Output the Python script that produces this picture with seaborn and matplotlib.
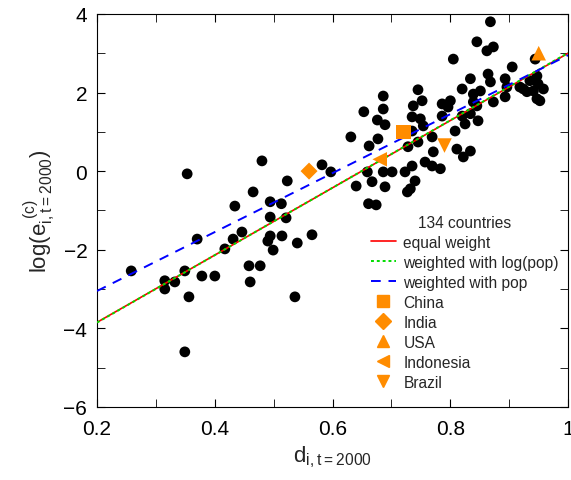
import matplotlib
matplotlib.use("Agg")
import matplotlib.pyplot as plt
import numpy as np
import pandas as pd
import seaborn as sns
from matplotlib.lines import Line2D
from matplotlib.ticker import MultipleLocator

# countries (black dots)
dev = [0.353, 0.434, 0.465, 0.480, 0.494, 0.513, 0.523, 0.582, 0.597, 0.631,
       0.640, 0.653, 0.661, 0.674, 0.662, 0.676, 0.677, 0.686, 0.686, 0.689,
       0.659, 0.667, 0.686, 0.701, 0.689, 0.723, 0.735, 0.740, 0.732, 0.727,
       0.728, 0.735, 0.735, 0.737, 0.745, 0.752, 0.749, 0.754, 0.745, 0.757,
       0.769, 0.783, 0.771, 0.769, 0.786, 0.786, 0.800, 0.796, 0.808, 0.811,
       0.822, 0.834, 0.820, 0.825, 0.834, 0.839, 0.847, 0.845, 0.820, 0.834,
       0.851, 0.839, 0.805, 0.845, 0.862, 0.873, 0.868, 0.864, 0.868, 0.873,
       0.893, 0.896, 0.893, 0.905, 0.918, 0.924, 0.930, 0.935, 0.947, 0.949,
       0.941, 0.947, 0.952, 0.958, 0.944,
       0.258, 0.315, 0.315, 0.332, 0.349, 0.356, 0.349, 0.370, 0.378, 0.400,
       0.417, 0.431, 0.446, 0.458, 0.477, 0.460, 0.494, 0.490, 0.494, 0.499,
       0.521, 0.514, 0.540, 0.565, 0.536]
loge = [-0.07, -0.89, -0.53, 0.26, -0.78, -0.83, -0.25, 0.16, -0.02, 0.87,
        -0.38, 1.51, -0.83, -0.86, 0.64, 1.30, 0.82, 1.91, 1.58, 1.18,
        -0.02, -0.27, -0.02, -0.02, -0.40, -0.02, 0.13, -0.25, -0.45, -0.53,
        0.62, 1.02, 1.38, 1.66, 2.07, 1.79, 1.33, 1.15, 0.74, 0.23,
        0.13, 0.06, 0.49, 0.87, 1.71, 1.40, 1.79, 1.63, 1.02, 0.56,
        0.36, 0.51, 1.40, 1.20, 1.46, 1.76, 1.28, 1.66, 2.09, 2.35,
        2.04, 1.96, 2.85, 3.29, 3.06, 3.16, 3.80, 2.47, 2.27, 1.76,
        2.35, 2.14, 1.89, 2.65, 2.14, 2.09, 2.02, 2.30, 2.42, 2.22,
        2.04, 1.84, 1.79, 2.09, 2.85,
        -2.54, -2.79, -3.00, -2.82, -2.54, -3.20, -4.60, -1.73, -2.67, -2.67,
        -1.98, -1.73, -1.55, -2.41, -2.41, -2.82, -1.17, -1.78, -1.65, -2.01,
        -1.19, -1.65, -1.83, -1.62, -3.20]

# highlighted countries
names = ["China", "India", "USA", "Indonesia", "Brazil"]
name_dev = [0.72, 0.56, 0.95, 0.68, 0.79]
name_loge = [1.0, 0.0, 3.0, 0.3, 0.65]
name_marks = ["s", "D", "^", "<", "v"]

# fitted lines: (slope, intercept)
fit_equal = (8.56, -5.56)
fit_logpop = (8.58, -5.57)
fit_pop = (7.5, -4.55)

sns.set_style("ticks")
plt.rcParams["font.family"] = ["Liberation Sans", "DejaVu Sans"]
plt.rcParams["mathtext.fontset"] = "custom"
plt.rcParams["mathtext.rm"] = "Liberation Sans"

fig = plt.figure(figsize=(5.71, 4.81), dpi=100)
ax = fig.add_axes([0.17, 0.152, 0.825, 0.817])

df = pd.DataFrame({"d": dev, "e": loge})
sns.scatterplot(data=df, x="d", y="e", color="black", s=60, edgecolor="none", ax=ax, zorder=3)

xs = np.array([0.2, 1.0])
ax.plot(xs, fit_equal[0] * xs + fit_equal[1], color="red", lw=1.2, zorder=4)
ax.plot(xs, fit_logpop[0] * xs + fit_logpop[1], color="#00dd00", lw=1.4, ls=(0, (1.5, 1.5)), zorder=4)
ax.plot(xs, fit_pop[0] * xs + fit_pop[1], color="blue", lw=1.4, ls=(0, (5, 4)), zorder=4)

orange = "#ff8c00"
for n, x, y, m in zip(names, name_dev, name_loge, name_marks):
    ax.scatter(x, y, marker=m, color=orange, s=110 if m != "D" else 75, zorder=5, edgecolor="none")

handles = [
    Line2D([], [], color="red", lw=1.2),
    Line2D([], [], color="#00dd00", lw=1.4, ls=(0, (1.5, 1.5))),
    Line2D([], [], color="blue", lw=1.4, ls=(0, (5, 4))),
] + [Line2D([], [], marker=m, color=orange, ls="none", markersize=8) for m in name_marks]
labels = ["equal weight", "weighted with log(pop)", "weighted with pop"] + names
leg = ax.legend(handles, labels, title="134 countries", loc="lower right",
                bbox_to_anchor=(1.0, 0.02), borderaxespad=0.2, frameon=False,
                fontsize=11.2, title_fontsize=11.2, handlelength=1.6,
                handletextpad=0.5, labelspacing=0.32, markerfirst=True)

ax.set_xlim(0.2, 1.0)
ax.set_ylim(-6, 4)
ax.xaxis.set_major_locator(MultipleLocator(0.2))
ax.xaxis.set_minor_locator(MultipleLocator(0.1))
ax.yaxis.set_major_locator(MultipleLocator(2))
ax.yaxis.set_minor_locator(MultipleLocator(1))
ax.set_xticklabels([f"{v:g}" for v in ax.get_xticks()])
for s in ax.spines.values():
    s.set_color("black")
ax.tick_params(which="both", direction="in", top=True, right=True, labelsize=15,
               colors="black", length=6)
ax.tick_params(axis="x", pad=9)
ax.tick_params(axis="y", pad=7)
ax.set_xlabel(r"d$_{\rm i,t=2000}$", fontsize=16)
ax.set_ylabel(r"log(e$_{\rm i,t=2000}^{\rm\ (c)}$)", fontsize=16)

fig.savefig("out.png", dpi=100)
